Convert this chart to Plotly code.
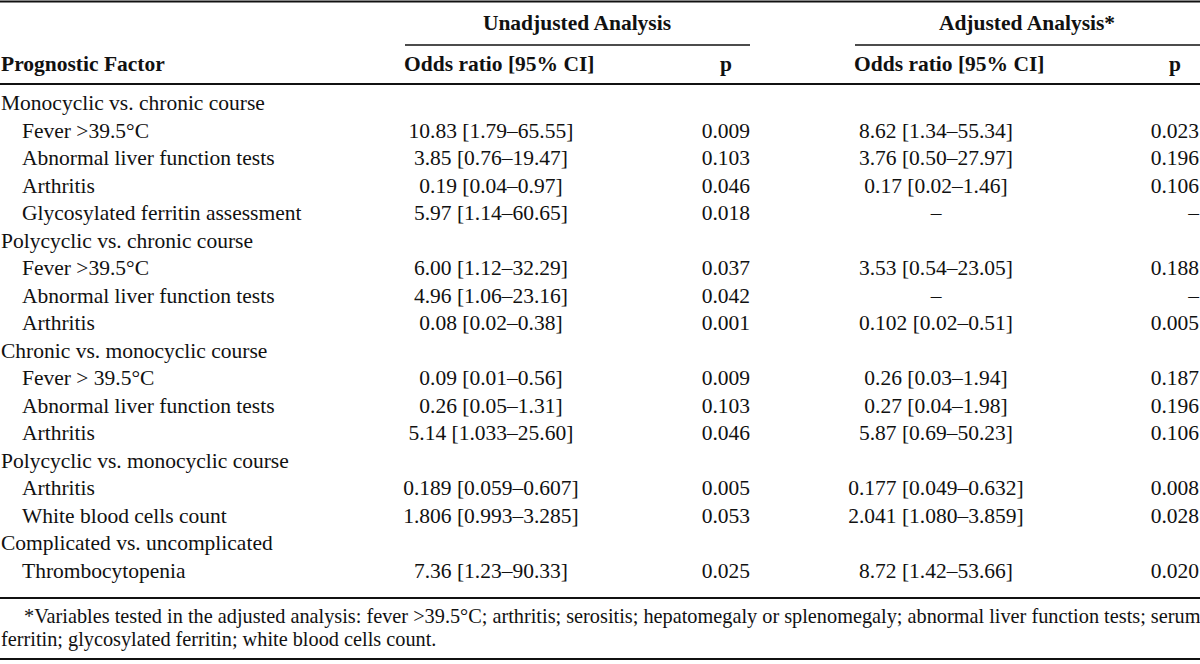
import plotly.graph_objects as go

# ---- data ----
factors = [
    "Monocyclic vs. chronic course",
    "Fever >39.5°C",
    "Abnormal liver function tests",
    "Arthritis",
    "Glycosylated ferritin assessment",
    "Polycyclic vs. chronic course",
    "Fever >39.5°C",
    "Abnormal liver function tests",
    "Arthritis",
    "Chronic vs. monocyclic course",
    "Fever > 39.5°C",
    "Abnormal liver function tests",
    "Arthritis",
    "Polycyclic vs. monocyclic course",
    "Arthritis",
    "White blood cells count",
    "Complicated vs. uncomplicated",
    "Thrombocytopenia",
]
is_group = [True, False, False, False, False, True, False, False, False,
            True, False, False, False, True, False, False, True, False]
unadj_or = ["", "10.83 [1.79–65.55]", "3.85 [0.76–19.47]", "0.19 [0.04–0.97]", "5.97 [1.14–60.65]",
            "", "6.00 [1.12–32.29]", "4.96 [1.06–23.16]", "0.08 [0.02–0.38]",
            "", "0.09 [0.01–0.56]", "0.26 [0.05–1.31]", "5.14 [1.033–25.60]",
            "", "0.189 [0.059–0.607]", "1.806 [0.993–3.285]",
            "", "7.36 [1.23–90.33]"]
unadj_p = ["", "0.009", "0.103", "0.046", "0.018",
           "", "0.037", "0.042", "0.001",
           "", "0.009", "0.103", "0.046",
           "", "0.005", "0.053",
           "", "0.025"]
adj_or = ["", "8.62 [1.34–55.34]", "3.76 [0.50–27.97]", "0.17 [0.02–1.46]", "–",
          "", "3.53 [0.54–23.05]", "–", "0.102 [0.02–0.51]",
          "", "0.26 [0.03–1.94]", "0.27 [0.04–1.98]", "5.87 [0.69–50.23]",
          "", "0.177 [0.049–0.632]", "2.041 [1.080–3.859]",
          "", "8.72 [1.42–53.66]"]
adj_p = ["", "0.023", "0.196", "0.106", "–",
         "", "0.188", "–", "0.005",
         "", "0.187", "0.196", "0.106",
         "", "0.008", "0.028",
         "", "0.020"]
group_headers = ["Unadjusted Analysis", "Adjusted Analysis*"]
col_headers = ["Prognostic Factor", "Odds ratio [95% CI]", "p", "Odds ratio [95% CI]", "p"]
footnote = ["*Variables tested in the adjusted analysis: fever >39.5°C; arthritis; serositis; hepatomegaly or splenomegaly; abnormal liver function tests; serum",
            "ferritin; glycosylated ferritin; white blood cells count."]

# ---- layout geometry ----
W, H = 1200, 664
FONT = "Liberation Serif, Times New Roman, serif"
FS = 21.5
BOLD = lambda s: "<b>" + s + "</b>"
row0, dy = 105, 27.5
ys = [row0 + i * dy for i in range(len(factors))]

fig = go.Figure()

def text_trace(x, y, txt, pos, size=FS):
    fig.add_trace(go.Scatter(x=x, y=y, text=txt, mode="text", textposition=pos,
                             textfont=dict(family=FONT, size=size, color="#111"),
                             hoverinfo="skip", showlegend=False, cliponaxis=False))

# factor column
gx = [1 if g else 22 for g in is_group]
text_trace(gx, ys, factors, "middle right")
# odds ratios (centered)
text_trace([491] * len(ys), ys, unadj_or, "middle center")
text_trace([936] * len(ys), ys, adj_or, "middle center")
# p values (right aligned)
text_trace([750] * len(ys), ys, unadj_p, "middle left")
text_trace([1199] * len(ys), ys, adj_p, "middle left")

# headers
text_trace([577, 1027], [25, 25], [BOLD(s) for s in group_headers], "middle center")
text_trace([1, 404], [66, 66], [BOLD(col_headers[0]), BOLD(col_headers[1])], "middle right")
text_trace([854], [66], [BOLD(col_headers[3])], "middle right")
text_trace([726, 1175], [66, 66], [BOLD(col_headers[2]), BOLD(col_headers[4])], "middle center")

# footnote
text_trace([24, 1], [618, 641], footnote, "middle right", size=20.3)

# rules
def hline(x0, x1, y, w):
    fig.add_shape(type="line", xref="x", yref="y", x0=x0, x1=x1, y0=y, y1=y,
                  line=dict(color="#111", width=w))

hline(0, W, 1.5, 2)
hline(405, 750, 45, 1.5)
hline(855, W, 45, 1.5)
hline(0, W, 84, 2)
hline(0, W, 598, 2)
hline(0, W, 659, 2)

fig.update_layout(
    width=W, height=H,
    margin=dict(l=0, r=0, t=0, b=0),
    paper_bgcolor="white", plot_bgcolor="white",
    xaxis=dict(range=[0, W], visible=False, fixedrange=True),
    yaxis=dict(range=[H, 0], visible=False, fixedrange=True),
)
fig.write_html("out.html", config={"displayModeBar": False},
               post_script="document.body.style.margin='0';document.body.style.overflow='hidden';")
